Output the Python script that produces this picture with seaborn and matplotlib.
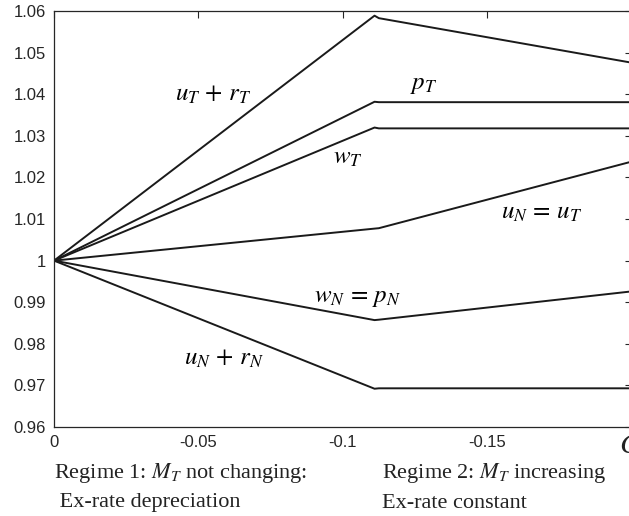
import numpy as np
import pandas as pd
import seaborn as sns
import matplotlib.pyplot as plt
from matplotlib.ticker import FuncFormatter

# shock size on the x axis (goes negative to the right)
x_pts = [0, -0.111, -0.1125, -0.2]

uT_rT = [1, 1.0589, 1.0583, 1.0476]
pT = [1, 1.0382, 1.0381, 1.0381]
wT = [1, 1.0320, 1.0318, 1.0318]
uN_uT = [1, 1.0077, 1.0078, 1.0238]
wN_pN = [1, 0.9857, 0.9858, 0.9926]
uN_rN = [1, 0.9692, 0.9693, 0.9693]

series = {'uT+rT': uT_rT, 'pT': pT, 'wT': wT,
          'uN=uT': uN_uT, 'wN=pN': wN_pN, 'uN+rN': uN_rN}

x_ticks = [0, -0.05, -0.1, -0.15]
y_ticks = [0.96, 0.97, 0.98, 0.99, 1, 1.01, 1.02, 1.03, 1.04, 1.05, 1.06]

rows = []
for name, vals in series.items():
    for x, v in zip(x_pts, vals):
        rows.append({'series': name, 'x': x, 'y': v})
df = pd.DataFrame(rows)

sns.set_theme(style='white')
plt.rcParams['font.family'] = ['Liberation Sans', 'DejaVu Sans']
plt.rcParams['mathtext.fontset'] = 'stix'

fig = plt.figure(figsize=(6.29, 5.16), dpi=100)
ax = fig.add_axes([0.0859, 0.1725, 0.9181, 0.806])

sns.lineplot(data=df, x='x', y='y', hue='series', palette=['#1a1a1a'] * 6,
             legend=False, linewidth=1.4, sort=False, estimator=None, ax=ax)

ax.set_xlim(0, -0.2)
ax.set_ylim(0.96, 1.06)
ax.set_xticks(x_ticks)
ax.set_yticks(y_ticks)
fmt = FuncFormatter(lambda v, p: ('%g' % round(v, 4)))
ax.xaxis.set_major_formatter(fmt)
ax.yaxis.set_major_formatter(fmt)
ax.set_xlabel('')
ax.set_ylabel('')
ax.tick_params(direction='in', length=5, width=0.8, colors='#262626',
               labelsize=12, top=True, right=True, pad=6)
for sp in ax.spines.values():
    sp.set_color('#262626')
    sp.set_linewidth(0.9)

lab = dict(fontsize=18, ha='center', va='center', color='black')
ax.text(-0.055, 1.040, r'$u_T\, +\, r_T$', **lab)
ax.text(-0.128, 1.0424, r'$p_T$', **lab)
ax.text(-0.1017, 1.025, r'$w_T$', **lab)
ax.text(-0.169, 1.0116, r'$u_N\, =\, u_T$', **lab)
ax.text(-0.105, 0.9913, r'$w_N\, =\, p_N$', **lab)
ax.text(-0.059, 0.9766, r'$u_N\, +\, r_N$', **lab)

foot = dict(fontsize=16, family=['Liberation Serif', 'DejaVu Serif'], color='#222222', va='center')
fig.text(54 / 629, 1 - 473 / 516, r'Regime 1: $M_T$ not changing:', **foot)
fig.text(54 / 629, 1 - 503 / 516, ' Ex-rate depreciation', **foot)
fig.text(382 / 629, 1 - 473 / 516, r'Regime 2: $M_T$ increasing', **foot)
fig.text(382 / 629, 1 - 503 / 516, 'Ex-rate constant', **foot)
fig.text(619 / 629, 1 - 446 / 516, r'$C$', fontsize=20, color='#222222', va='center')

fig.savefig('out.png', dpi=100)
